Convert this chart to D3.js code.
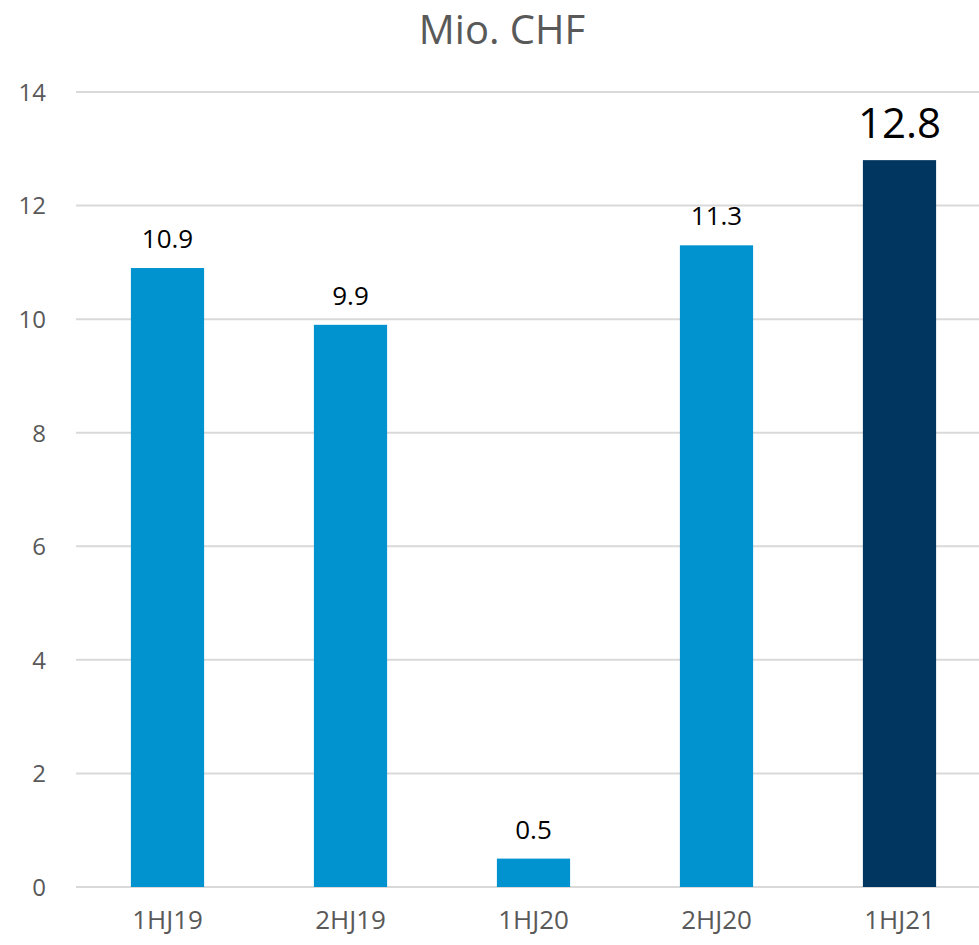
<!DOCTYPE html>
<html><head><meta charset="utf-8">
<script src="https://cdn.jsdelivr.net/npm/d3@7"></script>
<style>body{margin:0;background:#fff}svg{display:block}</style>
</head><body>
<svg id="c" width="979" height="945"></svg>
<script>
const categories = ["1HJ19","2HJ19","1HJ20","2HJ20","1HJ21"];
const values = [10.9, 9.9, 0.5, 11.3, 12.8];
const labels = ["10.9","9.9","0.5","11.3","12.8"];
const yTicks = [0,2,4,6,8,10,12,14];
const title = "Mio. CHF";

const svg = d3.select("#c");
const font = "'Open Sans', 'Noto Sans', sans-serif";
const x = d3.scaleBand().domain(categories).range([76, 991]).paddingInner(0.6).paddingOuter(0.3);
const y = d3.scaleLinear().domain([0, 14]).range([887, 92]);

svg.append("text").attr("x", 502).attr("y", 44).attr("text-anchor", "middle")
  .attr("font-family", font).attr("font-size", 40).attr("fill", "#595959").text(title);

const grid = svg.append("g");
grid.selectAll("line").data(yTicks).join("line")
  .attr("x1", 76).attr("x2", 979)
  .attr("y1", d => y(d)).attr("y2", d => y(d))
  .attr("stroke", "#d9d9d9").attr("stroke-width", 2);

const yAxis = d3.axisLeft(y).tickValues(yTicks).tickSize(0).tickPadding(0);
const ya = svg.append("g").attr("transform", "translate(46,0)").call(yAxis);
ya.select(".domain").remove();
ya.selectAll("text").attr("font-family", font).attr("font-size", 24).attr("fill", "#595959").attr("dy", "0.35em");

const xAxis = d3.axisBottom(x).tickSize(0).tickPadding(0);
const xa = svg.append("g").attr("transform", "translate(0,911)").call(xAxis);
xa.select(".domain").remove();
xa.selectAll("text").attr("font-family", font).attr("font-size", 26).attr("fill", "#595959").attr("dy", "0.71em");

svg.append("g").selectAll("rect").data(values).join("rect")
  .attr("x", (d, i) => x(categories[i]))
  .attr("width", x.bandwidth())
  .attr("y", d => y(d))
  .attr("height", d => y(0) - y(d))
  .attr("fill", (d, i) => i === 4 ? "#003660" : "#0093d0");

svg.append("g").selectAll("text").data(values).join("text")
  .attr("x", (d, i) => x(categories[i]) + x.bandwidth() / 2)
  .attr("y", (d, i) => y(d) - (i === 4 ? 22 : 20))
  .attr("text-anchor", "middle")
  .attr("font-family", font)
  .attr("font-size", (d, i) => i === 4 ? 42 : 26)
  .attr("fill", "#000")
  .text((d, i) => labels[i]);
</script>
</body></html>
